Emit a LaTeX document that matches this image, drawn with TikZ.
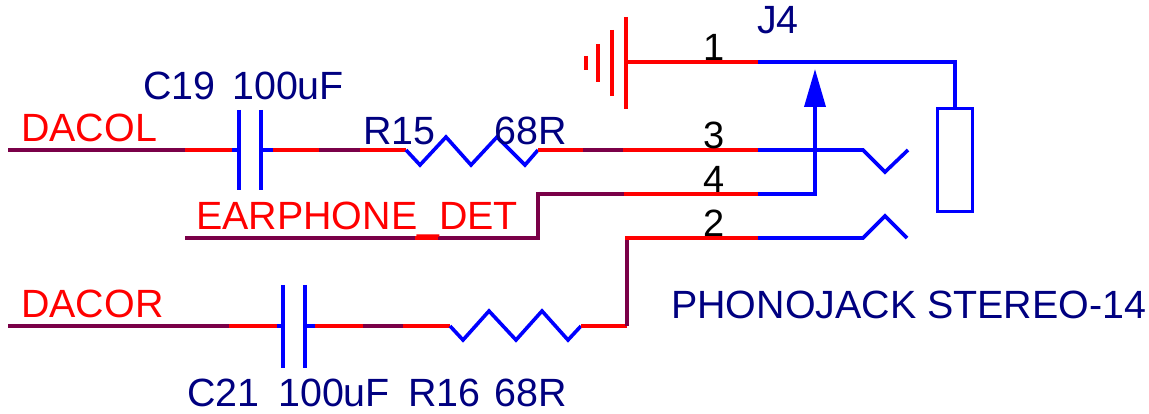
\documentclass[tikz,border=0pt]{standalone}
\usepackage{fontspec}
\setmainfont{Liberation Sans}
\usetikzlibrary{arrows.meta}
\definecolor{netred}{RGB}{255,0,0}
\definecolor{netpurple}{RGB}{122,0,72}
\definecolor{partblue}{RGB}{0,0,255}
\definecolor{textblue}{RGB}{0,0,128}
\tikzset{
	wirered/.style={draw=netred,line width=3.6pt},
	wirepurple/.style={draw=netpurple,line width=3.6pt},
	partline/.style={draw=partblue,line width=3.6pt,line join=miter},
	gndline/.style={draw=netred,line width=3.6pt},
	netlabel/.style={anchor=base west,inner sep=0pt,text=netred,font=\fontsize{39.4}{40}\selectfont},
	partlabel/.style={anchor=base west,inner sep=0pt,text=textblue,font=\fontsize{39.4}{40}\selectfont},
	pinlabel/.style={anchor=base,inner sep=0pt,text=black,font=\fontsize{38}{40}\selectfont}
}
\begin{document}
\begin{tikzpicture}[x=1pt,y=-1pt]
	\useasboundingbox (0,0) rectangle (1149,414);
	\coordinate (dacol) at (8,150);
	\coordinate (c19a) at (239,150);
	\coordinate (c19b) at (261,150);
	\coordinate (r15a) at (406,150);
	\coordinate (r15b) at (538,150);
	\coordinate (pin3) at (758,150);
	\coordinate (det) at (185,238);
	\coordinate (detup) at (538,194);
	\coordinate (pin4) at (758,194);
	\coordinate (dacor) at (8,326);
	\coordinate (c21a) at (283,326);
	\coordinate (c21b) at (305,326);
	\coordinate (r16a) at (450,326);
	\coordinate (r16b) at (581,326);
	\coordinate (rise) at (627,326);
	\coordinate (pin2) at (758,238);
	\coordinate (gnd) at (626,62);
	\coordinate (pin1) at (758,62);
	\coordinate (sleeve) at (955,62);
	\coordinate (tip) at (815,69);
	\node (body) [draw=partblue,line width=3.6pt,minimum width=35pt,minimum height=103pt,inner sep=0pt] at (955,160) {};

	\draw [wirered] (dacol) -- (c19a);
	\draw [wirepurple] (dacol) -- (185,150);
	\draw [partline] (232,150) -- (c19a);
	\draw [partline] (239,110) -- (239,190);
	\draw [partline] (261,110) -- (261,190);
	\draw [partline] (c19b) -- (273,150);
	\draw [wirered] (273,150) -- (r15a);
	\draw [wirepurple] (319,150) -- (360,150);
	\draw [partline] (r15a) -- (420,165) -- (446,137) -- (471,165) -- (497,137) -- (525,165) -- (r15b);
	\draw [wirered] (r15b) -- (pin3);
	\draw [wirepurple] (583,150) -- (623,150);

	\draw [wirepurple,line join=miter] (det) -- (538,238) -- (detup) -- (624,194);
	\draw [wirered] (415,238) -- (438,238);
	\draw [wirered] (624,194) -- (pin4);

	\draw [wirepurple] (dacor) -- (229,326);
	\draw [wirered] (229,326) -- (277,326);
	\draw [partline] (277,326) -- (c21a);
	\draw [partline] (283,285) -- (283,368);
	\draw [partline] (305,285) -- (305,368);
	\draw [partline] (c21b) -- (315,326);
	\draw [wirered] (315,326) -- (r16a);
	\draw [wirepurple] (363,326) -- (403,326);
	\draw [partline] (r16a) -- (463,340) -- (489,311) -- (516,340) -- (542,311) -- (568,340) -- (r16b);
	\draw [wirered] (r16b) -- (rise);
	\draw [wirepurple] (rise) -- (627,238);
	\draw [wirered] (625.2,238) -- (pin2);

	\draw [gndline] (626,17) -- (626,109);
	\draw [gndline] (612,30) -- (612,96);
	\draw [gndline] (598,44) -- (598,82);
	\draw [gndline] (586,56) -- (586,70);
	\draw [wirered] (gnd) -- (pin1);
	\draw [partline] (pin1) -- (sleeve) -- (body.north);
	\draw [partline] (pin3) -- (863,150) -- (885,172) -- (908,150);
	\draw [partline] (pin2) -- (863,238) -- (885,216) -- (907,238);
	\draw [partline,-{Triangle[length=38pt,width=21pt]}] (pin4) -- (815,194) -- (tip);

	\node (dacollabel) [netlabel] at (21,142) {DACOL};
	\node (detlabel) [netlabel] at (196,230) {EARPHONE\_DET};
	\node (dacorlabel) [netlabel] at (21,317) {DACOR};
	\node (c19label) [partlabel] at (143,100) {C19};
	\node (c19value) [partlabel] at (232,100) {100uF};
	\node (r15label) [partlabel] at (363,145) {R15};
	\node (r15value) [partlabel] at (494,145) {68R};
	\node (c21label) [partlabel] at (187,406) {C21};
	\node (c21value) [partlabel] at (278,406) {100uF};
	\node (r16label) [partlabel] at (408,406) {R16};
	\node (r16value) [partlabel] at (494,406) {68R};
	\node (j4label) [partlabel] at (757,34) {J4};
	\node (jacklabel) [partlabel] at (671,318) {PHONOJACK STEREO-14};
	\node (pin1label) [pinlabel] at (714,61) {1};
	\node (pin3label) [pinlabel] at (714,149) {3};
	\node (pin4label) [pinlabel] at (714,193) {4};
	\node (pin2label) [pinlabel] at (714,237) {2};
\end{tikzpicture}
\end{document}
